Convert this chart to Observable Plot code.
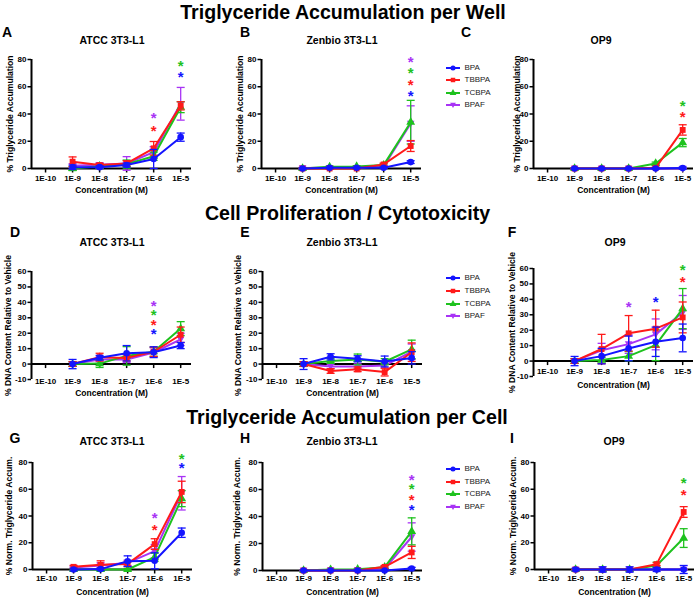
<!DOCTYPE html>
<html><head><meta charset="utf-8">
<script src="https://cdn.jsdelivr.net/npm/d3@7"></script>
<script src="https://cdn.jsdelivr.net/npm/@observablehq/plot@0.6"></script>
<style>
body{margin:0;background:#fff;}
#root{position:relative;width:700px;height:601px;overflow:hidden;font-family:"Liberation Sans",Arial,sans-serif;}
.abs{position:absolute;white-space:nowrap;transform:translate(-50%,-50%);font-weight:bold;color:#000;line-height:1;}
.pl{position:absolute;}
.lg{position:absolute;white-space:nowrap;font-size:8px;color:#222;line-height:1;transform:translateY(-50%);}
</style></head><body><div id="root"></div>
<script>
// ---------- data ----------
const seriesNames = ["BPA","TBBPA","TCBPA","BPAF"];
const seriesColors = ["#1414ff","#ff1a1a","#1ec21e","#a833f5"];
const concExp = [-9,-8,-7,-6,-5];
const xTickExp = [-10,-9,-8,-7,-6,-5];
const yTicksTG = [0,20,40,60,80];
const yTicksDNA = [-10,0,10,20,30,40,50,60];
const rowHeadings = ["Triglyceride Accumulation per Well","Cell Proliferation / Cytotoxicity","Triglyceride Accumulation per Cell"];
const rowYLabels = ["% Triglyceride Accumulation","% DNA Content Relative to Vehicle","% Norm. Triglyceride Accum."];
const cellLines = ["ATCC 3T3-L1","Zenbio 3T3-L1","OP9"];
const panelLetters = ["A","B","C","D","E","F","G","H","I"];
const xTitle = "Concentration (M)";

// means / errors: rows = BPA, TBBPA, TCBPA, BPAF; cols = 1E-9..1E-5
const meanA = [[1,1,2.5,7,23],[5,2.5,3.7,14.8,46],[0,1.7,3.2,9,45],[2,2.7,3.7,12,47.5]];
const errA  = [[1.5,1,1.5,7,3],[3.5,1.2,2,5,3],[1.5,1.5,3,3,4],[1.5,1.5,5,4,12]];
const meanB = [[0,0.5,0.5,0.5,4.7],[0,0,0,3,16.5],[0,1.2,1.5,2.5,34],[0.3,0.5,0.5,1.5,33]];
const errB  = [[0.5,0.5,0.5,0.5,1],[0.5,0.5,0.5,1,4],[0.5,0.5,0.5,1,16],[0.5,0.5,0.5,1,13]];
const meanC = [[0,0,0,0,0.3],[0,0,0,0.5,28.3],[0,0,0,3.7,19],[0,0,0,0,0]];
const errC  = [[0.5,0.5,0.5,0.5,0.8],[0.3,0.3,0.3,0.5,3.8],[0.3,0.3,0.3,1,3],[0.3,0.3,0.3,0.3,0.3]];
const meanD = [[0,4.1,7,7.7,12],[0,4.5,4,8,19],[0,0.3,5.3,8,23],[0,3,3,7.5,16]];
const errD  = [[3,1.5,5,3.5,2],[1.5,2.5,2,3,5],[1.5,2.5,6,3,4.5],[1.5,1.5,2,3,4]];
const meanE = [[0,4.7,3.4,1.7,4],[0,-4.5,-3.4,-5.2,7.7],[0,2,3,1.5,9.5],[0,-1.5,-1.5,-1,8]];
const errE  = [[3.5,2,2,3.5,4],[1.5,1.5,1.5,2.5,6],[1.5,1.5,3.5,2,6],[1.5,1.5,1.5,1.5,5]];
const meanF = [[0,3.2,8.2,12.5,15],[0,7.8,18,21,28.3],[0,0.7,3.2,10.3,34],[0,7,11,17.3,31.5]];
const errF  = [[3,5,8,9.5,9],[1.5,9.5,11.5,12,10],[1.5,2,3,10,13],[1.5,4.5,6,10,11]];
const meanG = [[0,0.3,6.2,6.5,27.5],[2,3.5,4.2,19,58],[0,0,0,9.2,53],[1.5,3,5,13.7,57]];
const errG  = [[1,1,4,6,3.5],[1,3,2,4,8],[0.5,0.5,0.5,3,6],[1,2,2,5,12.5]];
const meanH = [[0,0,0,0,1.5],[0,0,0,2.7,13.4],[0,0.7,1,2.5,29],[0,0.3,0.5,1.5,24.8]];
const errH  = [[0.3,0.3,0.3,0.3,0.8],[0.3,0.3,0.3,1,4.5],[0.3,0.3,0.3,1,10],[0.3,0.3,0.3,1,10.5]];
const meanI = [[0,0,0,0,0],[0,0,0,4,43],[0,0,0,3,23.5],[0,0,0,0,0]];
const errI  = [[1,2,2,1.5,3],[0.3,0.3,0.3,1,4],[0.3,0.3,0.3,2.5,7],[0.3,0.3,0.3,0.3,0.3]];

// significance asterisks: [concentration exponent, series, y]
const starsA = [[-6,"BPAF",40],[-6,"TBBPA",30.6],[-5,"TCBPA",78],[-5,"BPA",70]];
const starsB = [[-5,"BPAF",80.7],[-5,"TCBPA",72.6],[-5,"TBBPA",64],[-5,"BPA",56]];
const starsC = [[-5,"TCBPA",49],[-5,"TBBPA",40.6]];
const starsD = [[-6,"BPAF",40],[-6,"TCBPA",34],[-6,"TBBPA",27.5],[-6,"BPA",21.7]];
const starsE = [];
const starsF = [[-7,"BPAF",37.4],[-6,"BPA",40.8],[-5,"TCBPA",61.3],[-5,"TBBPA",54]];
const starsG = [[-6,"BPAF",41.5],[-6,"TBBPA",32.3],[-5,"TCBPA",85.5],[-5,"BPA",78.8]];
const starsH = [[-5,"BPAF",70],[-5,"TCBPA",63],[-5,"TBBPA",55.4],[-5,"BPA",48]];
const starsI = [[-5,"TCBPA",67.5],[-5,"TBBPA",58.6]];

// ---------- symbols ----------
const invTri = {draw(ctx, size){ const r = Math.sqrt(size/Math.PI); ctx.moveTo(0, r*1.15); ctx.lineTo(r*1.15, -r*0.85); ctx.lineTo(-r*1.15, -r*0.85); ctx.closePath(); }};
const capSym = {draw(ctx){ ctx.moveTo(-4,0); ctx.lineTo(4,0); }};
const seriesSymbols = ["circle","square","triangle",invTri];
const drawOrder = [3,2,1,0];

// ---------- layout ----------
const FONT = '"Liberation Sans", Arial, sans-serif';
const root = document.getElementById("root");
function addText(txt, x, y, size, cls="abs"){ const d=document.createElement("div"); d.className=cls; d.textContent=txt; d.style.left=x+"px"; d.style.top=y+"px"; d.style.fontSize=size+"px"; root.appendChild(d); return d; }

const panels = [
 {mean:meanA, err:errA, stars:starsA, row:0, col:0, ax:31,  yTop:59,  yBot:168, tp:7,  ty:22, ydx:-21, tx:112, ty0:40, lx:7,   ly:32},
 {mean:meanB, err:errB, stars:starsB, row:0, col:1, ax:261, yTop:59,  yBot:168, tp:7,  ty:22, ydx:-21, tx:342, ty0:40, lx:245, ly:32},
 {mean:meanC, err:errC, stars:starsC, row:0, col:2, ax:533, yTop:59,  yBot:168, tp:7,  ty:22, ydx:-16, tx:601, ty0:40, lx:466, ly:32},
 {mean:meanD, err:errD, stars:starsD, row:1, col:0, ax:31,  yTop:271, yBot:379, tp:-1, ty:14, ydx:-23, tx:112, ty0:242, lx:15, ly:232},
 {mean:meanE, err:errE, stars:starsE, row:1, col:1, ax:262, yTop:271, yBot:379, tp:-1, ty:14, ydx:-24, tx:342, ty0:242, lx:245, ly:232},
 {mean:meanF, err:errF, stars:starsF, row:1, col:2, ax:533, yTop:268, yBot:376, tp:-8, ty:9,  ydx:-21, tx:615, ty0:242, lx:512, ly:232},
 {mean:meanG, err:errG, stars:starsG, row:2, col:0, ax:31.5,yTop:462, yBot:569, tp:6,  ty:23, ydx:-23, tx:112, ty0:441, lx:15, ly:438},
 {mean:meanH, err:errH, stars:starsH, row:2, col:1, ax:262, yTop:462, yBot:570, tp:5,  ty:22, ydx:-25, tx:342, ty0:441, lx:245, ly:438},
 {mean:meanI, err:errI, stars:starsI, row:2, col:2, ax:534, yTop:462, yBot:569, tp:6,  ty:23, ydx:-21, tx:614, ty0:441, lx:512, ly:438},
];

function makePanel(p){
  const ML=32, MR=8, MT=30, MB=34, FW=160;
  const xDom=[-10.52,-4.6];
  const yDom = p.row===1 ? [-10,60] : [0,80];
  const yTicks = p.row===1 ? yTicksDNA : yTicksTG;
  const marks=[];
  marks.push(Plot.ruleY([0],{stroke:"#000",strokeWidth:2}));
  marks.push(Plot.ruleX([xDom[0]],{y1:yDom[0],y2:yDom[1],stroke:"#000",strokeWidth:2}));
  marks.push(Plot.ruleX(xTickExp,{x:d=>d,y1:0,y2:0,insetBottom:-4.5,stroke:"#000",strokeWidth:1.5}));
  marks.push(Plot.axisY({ticks:yTicks,tickSize:3.5,tickPadding:1.5,strokeWidth:1.5,fontSize:8,label:null,tickFormat:d=>String(d)}));
  marks.push(Plot.axisX({ticks:xTickExp,tickSize:0,tickPadding:p.tp,tickFormat:d=>"1E"+d,fontSize:8,label:null}));
  marks.push(Plot.text([rowYLabels[p.row]],{frameAnchor:"left",textAnchor:"middle",lineAnchor:"middle",text:d=>d,rotate:-90,dx:p.ydx,fontSize:8.6}));
  marks.push(Plot.text([xTitle],{frameAnchor:"bottom",textAnchor:"middle",lineAnchor:"middle",text:d=>d,dy:p.ty,fontSize:8.5}));
  for(const si of drawOrder){
    const c=seriesColors[si];
    const rows=concExp.map((x,i)=>({x, y:p.mean[si][i], e:p.err[si][i]}));
    marks.push(Plot.ruleX(rows,{x:"x",y1:d=>d.y-d.e,y2:d=>d.y+d.e,stroke:c,strokeWidth:1.3}));
    marks.push(Plot.dot(rows,{x:"x",y:d=>d.y+d.e,symbol:capSym,stroke:c,strokeWidth:1.3,fill:"none"}));
    marks.push(Plot.dot(rows,{x:"x",y:d=>d.y-d.e,symbol:capSym,stroke:c,strokeWidth:1.3,fill:"none"}));
    marks.push(Plot.line(rows,{x:"x",y:"y",stroke:c,strokeWidth:2}));
    marks.push(Plot.dot(rows,{x:"x",y:"y",symbol:seriesSymbols[si],fill:c,stroke:"none",r:3.3}));
  }
  seriesNames.forEach((s,si)=>{
    const st=p.stars.filter(d=>d[1]===s);
    if(st.length) marks.push(Plot.text(st,{x:d=>d[0],y:d=>d[2],text:()=>"*",fill:seriesColors[si],fontSize:15,dy:4}));
  });
  const svg=Plot.plot({
    width:ML+FW+MR, height:MT+(p.yBot-p.yTop)+MB,
    marginLeft:ML, marginRight:MR, marginTop:MT, marginBottom:MB,
    x:{domain:xDom}, y:{domain:yDom},
    style:{fontFamily:FONT,fontWeight:"bold",fontSize:"8px",color:"#000",background:"transparent",overflow:"visible"},
    marks
  });
  svg.classList.add("pl");
  svg.style.position="absolute";
  svg.style.left=(p.ax-ML)+"px";
  svg.style.top=(p.yTop-MT)+"px";
  root.appendChild(svg);
}

panels.forEach((p,i)=>{
  makePanel(p);
  addText(cellLines[p.col], p.tx, p.ty0, 10.5);
  addText(panelLetters[i], p.lx, p.ly, 14);
});

// row headings
[[343,12.5],[347.5,214],[347,418]].forEach((c,i)=>addText(rowHeadings[i], c[0], c[1], 19.6));

// legends
[[67.5,80,92.7,105],[278.3,291,303.7,316],[469,481.7,494.3,507.3]].forEach(ys=>{
  ys.forEach((y,si)=>{
    const s=d3.create("svg").attr("width",16).attr("height",10).style("position","absolute").style("left","445px").style("top",(y-5)+"px");
    s.append("line").attr("x1",1).attr("x2",15).attr("y1",5).attr("y2",5).attr("stroke",seriesColors[si]).attr("stroke-width",2);
    const sym = si===3 ? invTri : [d3.symbolCircle,d3.symbolSquare,d3.symbolTriangle][si];
    s.append("path").attr("transform","translate(8,5)").attr("d",d3.symbol(sym, 20)()).attr("fill",seriesColors[si]);
    root.appendChild(s.node());
    addText(seriesNames[si], 464.5, y, 8, "lg");
  });
});
</script></body></html>
